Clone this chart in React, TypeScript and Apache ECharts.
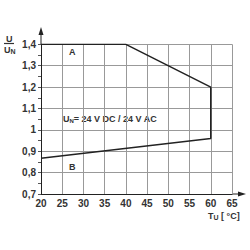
import React, { useEffect, useRef } from "react";
import * as echarts from "echarts";

const temps = [20, 40, 60, 60, 20];
const ratios = [1.4, 1.4, 1.2, 0.96, 0.867];
const xTicks = [20, 25, 30, 35, 40, 45, 50, 55, 60, 65];
const yTicks = [0.7, 0.8, 0.9, 1.0, 1.1, 1.2, 1.3, 1.4];

const FONT = "Liberation Sans, Arial, sans-serif";
const TXT = "#333";

export default function App() {
  const ref = useRef<HTMLDivElement>(null);
  useEffect(() => {
    if (!ref.current) return;
    document.body.style.margin = "0";
    const chart = echarts.init(ref.current, undefined, { renderer: "svg" });
    chart.setOption({
      animation: false,
      grid: { left: 41, right: 18, top: 44.3, bottom: 56 },
      xAxis: {
        type: "value",
        min: xTicks[0],
        max: xTicks[xTicks.length - 1],
        interval: 5,
        axisLine: { show: true, onZero: false, lineStyle: { color: "#222", width: 1 } },
        axisTick: { show: false },
        splitLine: { show: true, lineStyle: { color: "#999", width: 1 } },
        axisLabel: {
          color: TXT,
          fontFamily: FONT,
          fontWeight: "bold",
          fontSize: 10,
          margin: 4,
          formatter: (v: number) => String(v),
        },
      },
      yAxis: {
        type: "value",
        min: yTicks[0],
        max: yTicks[yTicks.length - 1],
        interval: 0.1,
        axisLine: { show: true, onZero: false, lineStyle: { color: "#222", width: 1 } },
        axisTick: { show: true, length: 3, lineStyle: { color: "#555" } },
        minorTick: { show: true, splitNumber: 2, length: 3, lineStyle: { color: "#555" } },
        splitLine: { show: true, lineStyle: { color: "#999", width: 1 } },
        axisLabel: {
          color: TXT,
          fontFamily: FONT,
          fontWeight: "bold",
          fontSize: 10,
          margin: 5,
          formatter: (v: number) => {
            const r = Math.round(v * 10) / 10;
            return r === 1 ? "1" : r.toFixed(1).replace(".", ",");
          },
        },
      },
      series: [
        {
          type: "line",
          data: temps.map((t, i) => [t, ratios[i]]),
          symbol: "none",
          lineStyle: { color: "#222", width: 1.5 },
          z: 5,
        },
      ],
      graphic: [
        { type: "line", shape: { x1: 41, y1: 44, x2: 41, y2: 32 }, style: { stroke: "#222", lineWidth: 1 } },
        { type: "polygon", shape: { points: [[38.5, 35], [41, 27], [43.5, 35]] }, style: { fill: "#222" } },
        { type: "line", shape: { x1: 232, y1: 194, x2: 240, y2: 194 }, style: { stroke: "#222", lineWidth: 1 } },
        { type: "polygon", shape: { points: [[238, 191.5], [246, 194], [238, 196.5]] }, style: { fill: "#222" } },
        {
          type: "text",
          left: 6,
          top: 34,
          style: { text: "U", font: `bold 9px ${FONT}`, fill: TXT },
        },
        { type: "line", shape: { x1: 4, y1: 43.5, x2: 14, y2: 43.5 }, style: { stroke: TXT, lineWidth: 1.2 } },
        {
          type: "text",
          left: 4,
          top: 45,
          style: {
            text: "{a|U}{s|N}",
            rich: {
              a: { font: `bold 9px ${FONT}`, fill: TXT },
              s: { font: `bold 7px ${FONT}`, fill: TXT, padding: [4, 0, 0, 0] },
            },
          },
        },
        {
          type: "text",
          left: 69,
          top: 47,
          style: { text: "A", font: `bold 9px ${FONT}`, fill: TXT },
        },
        {
          type: "text",
          left: 69,
          top: 162,
          style: { text: "B", font: `bold 9px ${FONT}`, fill: TXT },
        },
        {
          type: "text",
          left: 63,
          top: 114,
          style: {
            text: "{a|U}{s|N}{a|= 24 V DC / 24 V AC}",
            rich: {
              a: { font: `bold 9px ${FONT}`, fill: TXT },
              s: { font: `bold 6px ${FONT}`, fill: TXT, padding: [4, 0, 0, 0] },
            },
          },
        },
        {
          type: "text",
          left: 208,
          top: 211,
          style: {
            text: "{a|T}{s|U}{a| [ °C]}",
            rich: {
              a: { font: `bold 9px ${FONT}`, fill: TXT },
              s: { font: `bold 7px ${FONT}`, fill: TXT, padding: [4, 0, 0, 0] },
            },
          },
        },
      ],
    });
    return () => chart.dispose();
  }, []);
  return <div ref={ref} style={{ width: 250, height: 250 }} />;
}
